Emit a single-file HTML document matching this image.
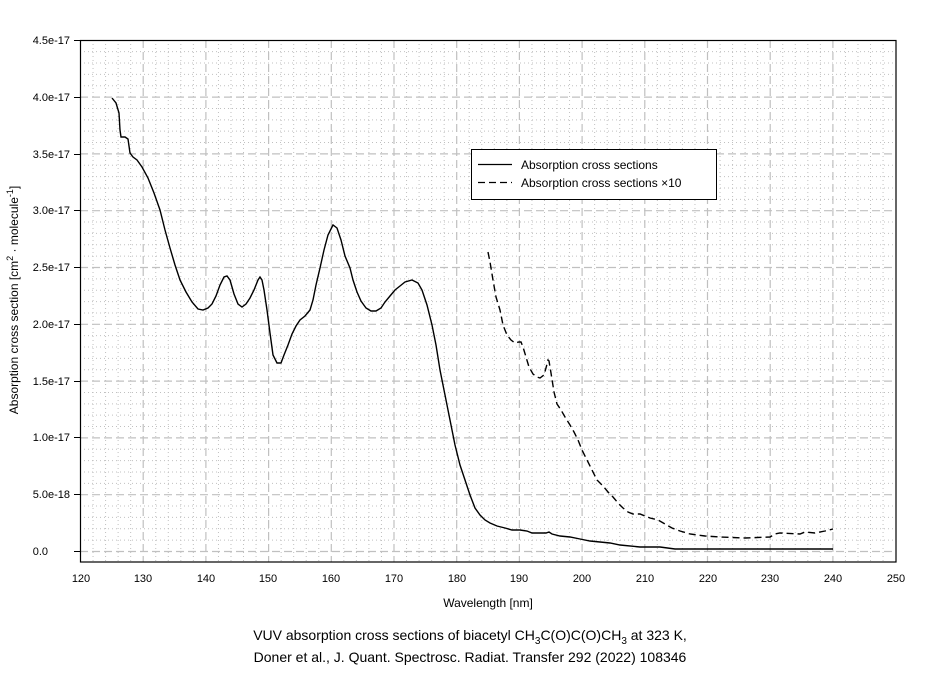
<!DOCTYPE html>
<html><head><meta charset="utf-8"><style>
body{margin:0;background:#fff;}
svg text{font-family:"Liberation Sans",sans-serif;fill:#000;}
</style></head><body>
<svg width="936" height="668" viewBox="0 0 936 668" xmlns="http://www.w3.org/2000/svg">
<rect width="936" height="668" fill="#fff"/>
<g id="minor" stroke="#c0c0c0" stroke-width="1" stroke-dasharray="1,3"></g>
<g id="major" stroke="#c0c0c0" stroke-width="1.2" stroke-dasharray="8,4"></g>
<script>
var mi=document.getElementById('minor'),ma=document.getElementById('major'),ns='http://www.w3.org/2000/svg';
function L(g,x1,y1,x2,y2){var l=document.createElementNS(ns,'line');l.setAttribute('x1',x1);l.setAttribute('y1',y1);l.setAttribute('x2',x2);l.setAttribute('y2',y2);g.appendChild(l);}
var x0=80,dx=62.7/10,y0=551,dy=56.8/5;
for(var w=122;w<250;w+=2){var x=x0+(w-120)*dx+0.5;L(w%10?mi:ma,x,40,x,562);}
for(var v=1;v<=44;v++){var y=y0-v*dy+0.5;L(v%5?mi:ma,80,y,896,y);}
L(ma,80,y0+0.5,896,y0+0.5);
</script>
<rect x="80.5" y="40.5" width="815.5" height="521.5" fill="none" stroke="#000" stroke-width="1.2"/>
<g stroke="#000" stroke-width="1">
<line x1="74" y1="40.5" x2="80" y2="40.5"/><line x1="74" y1="97.5" x2="80" y2="97.5"/><line x1="74" y1="154.5" x2="80" y2="154.5"/><line x1="74" y1="210.5" x2="80" y2="210.5"/><line x1="74" y1="267.5" x2="80" y2="267.5"/><line x1="74" y1="324.5" x2="80" y2="324.5"/><line x1="74" y1="381.5" x2="80" y2="381.5"/><line x1="74" y1="437.5" x2="80" y2="437.5"/><line x1="74" y1="494.5" x2="80" y2="494.5"/><line x1="74" y1="551.5" x2="80" y2="551.5"/>
</g>
<g font-size="11" text-anchor="end">
<text x="70" y="44">4.5e-17</text><text x="70" y="101">4.0e-17</text><text x="70" y="158">3.5e-17</text><text x="70" y="214">3.0e-17</text><text x="70" y="271">2.5e-17</text><text x="70" y="328">2.0e-17</text><text x="70" y="385">1.5e-17</text><text x="70" y="441">1.0e-17</text><text x="70" y="498">5.0e-18</text><text x="48" y="555">0.0</text>
</g>
<g font-size="11" text-anchor="middle">
<text x="81" y="582">120</text><text x="143" y="582">130</text><text x="206" y="582">140</text><text x="268" y="582">150</text><text x="331" y="582">160</text><text x="394" y="582">170</text><text x="457" y="582">180</text><text x="519" y="582">190</text><text x="582" y="582">200</text><text x="645" y="582">210</text><text x="708" y="582">220</text><text x="770" y="582">230</text><text x="833" y="582">240</text><text x="896" y="582">250</text>
<text x="488" y="607" font-size="12">Wavelength [nm]</text>
<text x="470" y="640" font-size="14">VUV absorption cross sections of biacetyl CH<tspan font-size="10" dy="4">3</tspan><tspan dy="-4">C(O)C(O)CH</tspan><tspan font-size="10" dy="4">3</tspan><tspan dy="-4"> at 323 K,</tspan></text>
<text x="470" y="662" font-size="14">Doner et al., J. Quant. Spectrosc. Radiat. Transfer 292 (2022) 108346</text>
</g>
<text transform="translate(18,300) rotate(-90)" font-size="12" text-anchor="middle">Absorption cross section [cm<tspan font-size="9" dy="-5">2</tspan><tspan dy="5"> · molecule</tspan><tspan font-size="9" dy="-5">-1</tspan><tspan dy="5">]</tspan></text>
<polyline fill="none" stroke="#000" stroke-width="1.4" points="112,98 116,103 119,113 120,130 121,137 125,137 128,139 130,153 133,157 137,160 142,167 148,178 154,193 160,210 165,230 170,248 175,265 180,280 186,292 192,302 198,309 203,310 208,308 212,304 216,296 220,285 224,277 227,276 230,280 234,294 238,304 242,307 246,304 250,298 254,290 258,280 260,277 262,280 264,290 267,310 270,333 273,355 277,363 281,363 284,355 288,345 292,334 296,326 300,320 305,316 310,310 313,300 316,285 320,268 324,250 328,235 333,225 337,228 341,240 345,256 350,268 353,280 357,292 361,301 366,308 371,311 376,311 381,308 385,302 390,296 395,290 400,286 405,282 412,280 418,283 422,290 427,305 432,325 436,345 440,370 445,395 450,420 455,445 460,465 465,480 470,495 475,508 480,515 485,520 490,523 497,526 505,528 512,530 520,530 527,531 532,533 540,533 546,533 549,532 552,534 560,536 570,537 580,539 590,541 600,542 610,543 620,545 640,547 660,547 675,549 833,549"/>
<polyline fill="none" stroke="#000" stroke-width="1.4" stroke-dasharray="7,4" points="488,252 490,262 493,280 496,297 500,310 503,325 507,335 511,340 515,343 519,342 521,342 523,347 526,357 529,367 533,374 537,377 540,378 544,375 546,368 548,360 549,361 551,373 554,392 557,404 561,410 565,417 570,425 574,432 578,440 582,450 587,460 592,470 597,480 603,486 608,492 613,497 618,503 623,508 628,512 633,514 640,514 650,518 658,520 665,524 672,528 680,531 690,534 705,536 720,537 745,538 770,537 775,534 780,533 800,534 805,532 815,533 825,531 833,529"/>
<rect x="471.5" y="149.5" width="245" height="50" fill="#fff" stroke="#000" stroke-width="1"/>
<line x1="478" y1="164.5" x2="512" y2="164.5" stroke="#000" stroke-width="1.2"/>
<line x1="478" y1="182.5" x2="512" y2="182.5" stroke="#000" stroke-width="1.2" stroke-dasharray="7,4"/>
<text x="521" y="169" font-size="12">Absorption cross sections</text>
<text x="521" y="187" font-size="12">Absorption cross sections ×10</text>
</svg>
</body></html>
